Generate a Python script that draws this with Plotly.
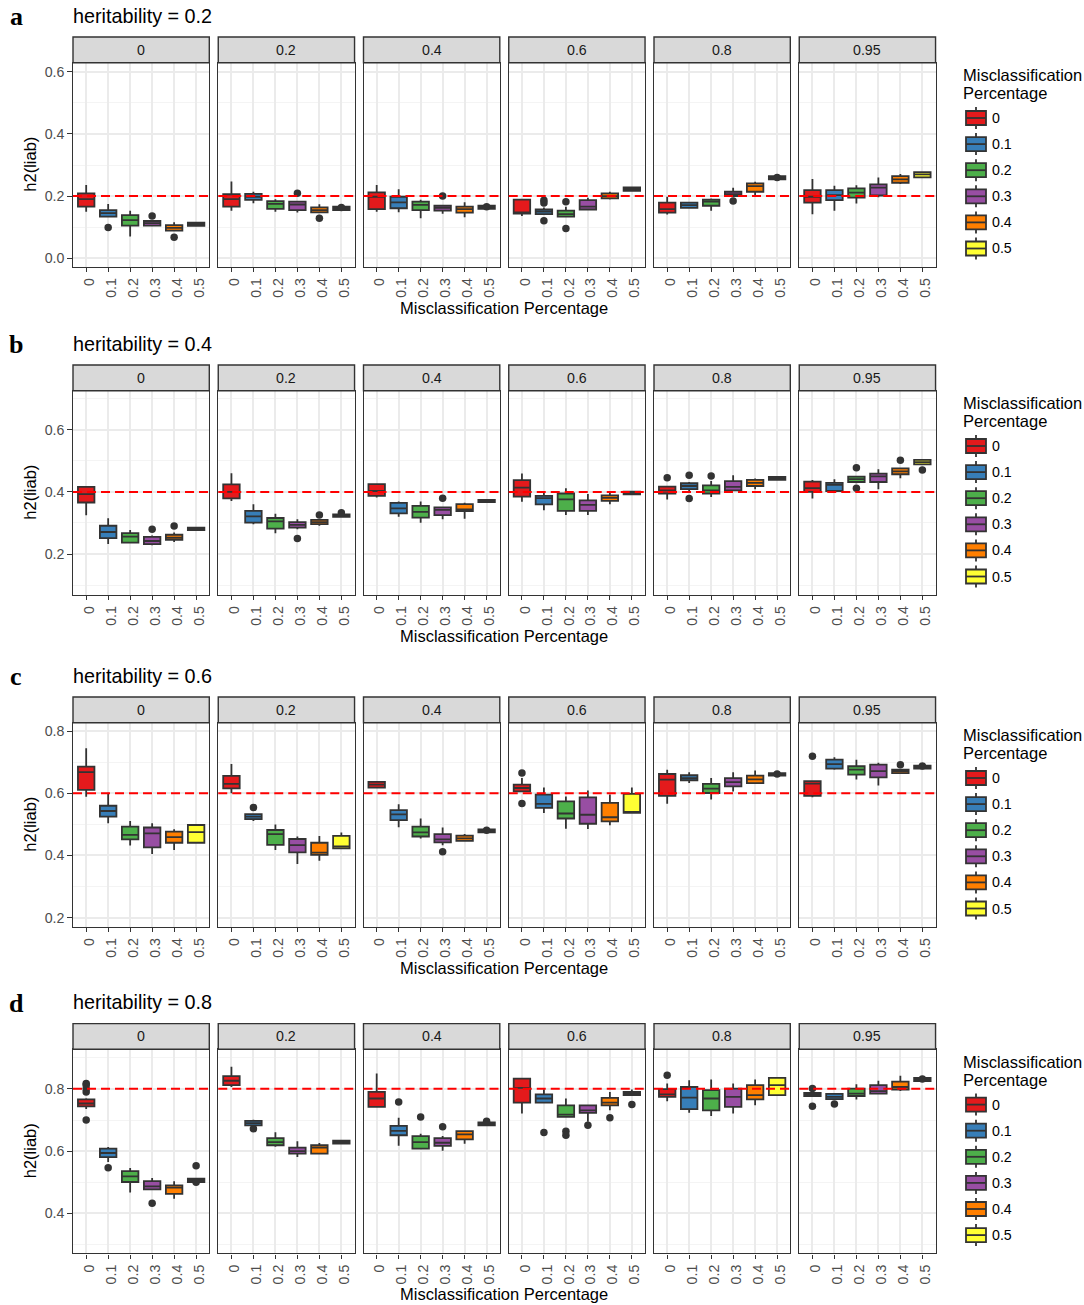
import plotly.graph_objects as go

# ---------------------------------------------------------------------------
# Data: estimated heritability on the liability scale, h2(liab).
# Rows = simulated heritability, facets = prevalence-like setting,
# six boxes per facet = misclassification percentage.
# Each inner list holds one facet, ordered by misclassification level.
# ---------------------------------------------------------------------------
HERITABILITY = [0.2, 0.4, 0.6, 0.8]
ROW_LETTERS = ["a", "b", "c", "d"]
FACETS = ["0", "0.2", "0.4", "0.6", "0.8", "0.95"]
MISCLASS = ["0", "0.1", "0.2", "0.3", "0.4", "0.5"]
COLORS = ["#E41A1C", "#377EB8", "#4DAF4A", "#984EA3", "#FF7F00", "#FFFF33"]

# heritability = 0.2
h02_lo = [[.150, .132, .070, .102, .086, .102], [.153, .177, .150, .147, .147, .153],
          [.150, .148, .129, .143, .132, .157], [.136, .142, .134, .155, .189, .215],
          [.141, .160, .153, .200, .198, .252], [.142, .153, .176, .196, .239, .258]]
h02_q1 = [[.166, .134, .105, .105, .089, .104], [.166, .188, .159, .155, .148, .155],
          [.158, .161, .155, .153, .147, .159], [.144, .142, .134, .157, .193, .217],
          [.147, .162, .169, .200, .214, .254], [.179, .187, .195, .202, .243, .260]]
h02_med = [[.190, .145, .123, .113, .098, .109], [.190, .198, .175, .173, .155, .161],
           [.198, .180, .172, .162, .158, .164], [.148, .150, .142, .166, .200, .222],
           [.158, .171, .182, .206, .232, .259], [.198, .203, .211, .227, .254, .270]]
h02_q3 = [[.209, .155, .139, .120, .107, .115], [.206, .207, .184, .182, .164, .166],
          [.212, .198, .182, .169, .166, .169], [.189, .157, .153, .187, .209, .228],
          [.179, .179, .189, .214, .241, .264], [.219, .219, .225, .238, .264, .277]]
h02_hi = [[.236, .175, .153, .120, .116, .117], [.247, .214, .190, .182, .174, .171],
          [.236, .222, .188, .169, .180, .171], [.191, .163, .166, .195, .214, .230],
          [.198, .181, .192, .227, .246, .266], [.255, .233, .235, .260, .271, .279]]
h02_out = [(0, "0.1", .099), (0, "0.3", .136), (0, "0.4", .068),
           (1, "0.3", .209), (1, "0.4", .129), (1, "0.5", .163),
           (2, "0.3", .200), (2, "0.5", .166),
           (3, "0.1", .187), (3, "0.1", .178), (3, "0.1", .121),
           (3, "0.2", .182), (3, "0.2", .096),
           (4, "0.3", .184), (4, "0.5", .260)]

# heritability = 0.4
h04_lo = [[.325, .232, .234, .228, .239, .275], [.371, .296, .267, .280, .291, .318],
          [.382, .320, .301, .312, .314, .365], [.368, .341, .326, .326, .360, .391],
          [.376, .403, .384, .405, .409, .438], [.379, .403, .428, .409, .444, .487]]
h04_q1 = [[.366, .251, .237, .232, .246, .277], [.379, .301, .282, .285, .296, .320],
          [.387, .331, .317, .325, .338, .367], [.385, .360, .339, .339, .371, .392],
          [.395, .409, .395, .405, .419, .439], [.400, .403, .432, .432, .457, .489]]
h04_med = [[.393, .271, .256, .242, .253, .281], [.400, .321, .305, .294, .303, .324],
           [.403, .347, .336, .342, .344, .371], [.414, .380, .376, .358, .381, .397],
           [.405, .419, .405, .416, .429, .444], [.412, .423, .441, .450, .466, .496]]
h04_q3 = [[.416, .291, .267, .255, .262, .285], [.424, .339, .316, .303, .310, .328],
          [.425, .365, .355, .350, .361, .374], [.438, .387, .395, .373, .389, .401],
          [.417, .428, .421, .435, .439, .448], [.433, .429, .449, .459, .476, .503]]
h04_hi = [[.418, .315, .277, .260, .269, .287], [.460, .360, .330, .312, .313, .331],
          [.427, .369, .369, .352, .365, .376], [.459, .398, .412, .393, .398, .402],
          [.419, .432, .435, .454, .443, .449], [.438, .441, .452, .473, .478, .505]]
h04_out = [(0, "0.3", .280), (0, "0.4", .290),
           (1, "0.3", .250), (1, "0.4", .326), (1, "0.5", .333),
           (2, "0.3", .380),
           (4, "0", .446), (4, "0.1", .454), (4, "0.1", .379), (4, "0.2", .451),
           (5, "0.2", .478), (5, "0.2", .412), (5, "0.4", .502), (5, "0.5", .471)]

# heritability = 0.6
h06_lo = [[.589, .504, .432, .405, .418, .440], [.600, .511, .418, .373, .383, .421],
          [.616, .491, .455, .433, .445, .472], [.606, .537, .486, .485, .497, .536],
          [.566, .633, .580, .606, .632, .655], [.587, .676, .644, .625, .664, .677]]
h06_q1 = [[.611, .525, .452, .426, .441, .441], [.616, .517, .434, .410, .402, .423],
          [.618, .514, .461, .442, .447, .474], [.606, .553, .519, .502, .510, .537],
          [.592, .642, .601, .622, .633, .657], [.592, .679, .660, .651, .665, .679]]
h06_med = [[.668, .543, .466, .471, .459, .475], [.630, .525, .469, .433, .409, .429],
           [.628, .532, .474, .452, .455, .479], [.617, .566, .535, .531, .523, .540],
           [.644, .649, .615, .636, .645, .661], [.631, .694, .676, .671, .671, .685]]
h06_q3 = [[.686, .560, .493, .490, .477, .498], [.656, .533, .482, .453, .441, .463],
          [.637, .546, .493, .469, .464, .484], [.628, .596, .574, .587, .569, .598],
          [.662, .658, .630, .649, .657, .665], [.639, .708, .687, .692, .676, .689]]
h06_hi = [[.745, .602, .511, .504, .484, .499], [.694, .535, .500, .461, .463, .474],
          [.639, .565, .519, .490, .469, .486], [.649, .619, .590, .609, .596, .619],
          [.676, .668, .649, .668, .673, .667], [.640, .716, .708, .698, .678, .692]]
h06_out = [(1, "0.1", .554),
           (2, "0.3", .412), (2, "0.5", .481),
           (3, "0", .665), (3, "0", .567),
           (4, "0.5", .662),
           (5, "0", .719), (5, "0.4", .692), (5, "0.5", .688)]

# heritability = 0.8
h08_lo = [[.735, .565, .467, .477, .447, .500], [.806, .683, .614, .581, .589, .623],
          [.739, .617, .606, .601, .624, .682], [.721, .756, .710, .694, .731, .779],
          [.760, .723, .713, .721, .747, .779], [.776, .766, .766, .783, .793, .823]]
h08_q1 = [[.744, .581, .501, .477, .463, .501], [.812, .683, .619, .592, .592, .624],
          [.742, .651, .608, .617, .638, .683], [.756, .756, .710, .723, .747, .780],
          [.774, .735, .731, .742, .766, .780], [.777, .767, .777, .785, .798, .825]]
h08_med = [[.753, .594, .519, .487, .483, .506], [.826, .690, .629, .600, .611, .629],
           [.769, .665, .629, .627, .654, .687], [.803, .769, .717, .731, .756, .785],
           [.782, .772, .769, .774, .780, .812], [.782, .774, .785, .793, .806, .830]]
h08_q3 = [[.766, .608, .536, .504, .490, .512], [.841, .697, .642, .611, .619, .634],
          [.790, .681, .648, .642, .664, .692], [.833, .782, .747, .747, .771, .790],
          [.799, .806, .796, .801, .812, .835], [.787, .784, .801, .812, .823, .835]]
h08_hi = [[.770, .613, .546, .514, .503, .513], [.871, .701, .661, .632, .626, .635],
          [.849, .707, .656, .649, .667, .697], [.835, .799, .769, .747, .790, .798],
          [.817, .828, .830, .817, .830, .836], [.792, .787, .815, .826, .842, .838]]
h08_out = [(0, "0", .817), (0, "0", .812), (0, "0", .800), (0, "0", .790), (0, "0", .700),
           (0, "0.1", .547), (0, "0.3", .433), (0, "0.5", .553), (0, "0.5", .500),
           (1, "0.1", .672),
           (2, "0.1", .758), (2, "0.2", .710), (2, "0.3", .678), (2, "0.5", .696),
           (3, "0.1", .660), (3, "0.2", .664), (3, "0.2", .651), (3, "0.3", .683),
           (3, "0.4", .707), (3, "0.5", .750),
           (4, "0", .844),
           (5, "0", .801), (5, "0", .744), (5, "0.1", .751), (5, "0.5", .832)]

ROWS = [
    (h02_lo, h02_q1, h02_med, h02_q3, h02_hi, h02_out),
    (h04_lo, h04_q1, h04_med, h04_q3, h04_hi, h04_out),
    (h06_lo, h06_q1, h06_med, h06_q3, h06_hi, h06_out),
    (h08_lo, h08_q1, h08_med, h08_q3, h08_hi, h08_out),
]

# ---------------------------------------------------------------------------
# Page geometry (pixels) and styling
# ---------------------------------------------------------------------------
W, H = 1084, 1305
PANEL_X0, PANEL_W, PANEL_STEP = 73.0, 136.3, 145.25
PANEL_TOPS = [62.7, 390.7, 722.7, 1049.3]
PANEL_H, STRIP_H = 204.0, 25.7
Y_RANGES = [(-0.027, 0.629), (0.069, 0.726), (0.171, 0.827), (0.272, 0.927)]

FONT = "Liberation Sans, Arial, Helvetica, sans-serif"
DARK = "#333333"
GRID = "#EBEBEB"
GRID_MINOR = "#F4F4F4"
TICK_TXT = "#4D4D4D"
SMALL = 14.2     # tick, strip and legend-key text
LARGE = 16.5     # axis and legend titles


def px(x):
    return x / W


def py(y):
    return 1 - y / H


fig = go.Figure()
layout = dict(
    width=W, height=H, margin=dict(l=0, r=0, t=0, b=0),
    paper_bgcolor="white", plot_bgcolor="white",
    boxmode="overlay", showlegend=False,
    font=dict(family=FONT, color="#000000"),
)
shapes, annotations = [], []

for r, (lo, q1, med, q3, hi, outs) in enumerate(ROWS):
    top = PANEL_TOPS[r]
    bottom = top + PANEL_H
    herit = HERITABILITY[r]
    for f, facet in enumerate(FACETS):
        k = r * len(FACETS) + f + 1
        xid = "x" if k == 1 else f"x{k}"
        yid = "y" if k == 1 else f"y{k}"
        xname = "xaxis" if k == 1 else f"xaxis{k}"
        yname = "yaxis" if k == 1 else f"yaxis{k}"
        x0 = PANEL_X0 + f * PANEL_STEP
        x1 = x0 + PANEL_W

        layout[xname] = dict(
            domain=[px(x0), px(x1)], anchor=yid, type="category",
            categoryorder="array", categoryarray=MISCLASS, range=[-0.6, 5.6],
            showgrid=True, gridcolor=GRID, gridwidth=1.8,
            ticks="outside", ticklen=4.5, tickwidth=1.3, tickcolor=DARK,
            tickangle=-90, ticklabelshift=3,
            tickfont=dict(family=FONT, size=SMALL, color=TICK_TXT),
            showline=True, mirror=True, linecolor=DARK, linewidth=1.4,
            zeroline=False, fixedrange=True,
        )
        layout[yname] = dict(
            domain=[py(bottom), py(top)], anchor=xid, range=list(Y_RANGES[r]),
            tick0=0, dtick=0.2, tickformat=".1f",
            showgrid=True, gridcolor=GRID, gridwidth=1.8,
            minor=dict(tick0=0.1, dtick=0.2, showgrid=True, gridcolor=GRID_MINOR,
                       gridwidth=1, ticks=""),
            showticklabels=(f == 0), ticks="outside" if f == 0 else "",
            ticklen=4.5, tickwidth=1.3, tickcolor=DARK,
            tickfont=dict(family=FONT, size=SMALL, color=TICK_TXT),
            showline=True, mirror=True, linecolor=DARK, linewidth=1.4,
            zeroline=False, fixedrange=True,
        )

        # one box per misclassification level
        for c, cat in enumerate(MISCLASS):
            fig.add_trace(go.Box(
                x=[cat], q1=[q1[f][c]], median=[med[f][c]], q3=[q3[f][c]],
                lowerfence=[lo[f][c]], upperfence=[hi[f][c]],
                fillcolor=COLORS[c], line=dict(color=DARK, width=1.8),
                whiskerwidth=0, width=0.75, boxpoints=False,
                xaxis=xid, yaxis=yid, name=cat, showlegend=False,
            ))

        pts = [(cat, v) for (fi, cat, v) in outs if fi == f]
        if pts:
            fig.add_trace(go.Scatter(
                x=[p[0] for p in pts], y=[p[1] for p in pts], mode="markers",
                marker=dict(color=DARK, size=7.5), xaxis=xid, yaxis=yid,
                showlegend=False, hoverinfo="y",
            ))

        # reference line at the simulated heritability
        shapes.append(dict(
            type="line", xref=f"{xid} domain", x0=0, x1=1, yref=yid, y0=herit, y1=herit,
            line=dict(color="#FF0000", width=2, dash="9px,5px"), layer="above",
        ))

        # facet strip
        shapes.append(dict(
            type="rect", xref="paper", yref="paper",
            x0=px(x0), x1=px(x1), y0=py(top), y1=py(top - STRIP_H),
            fillcolor="#D9D9D9", line=dict(color=DARK, width=1.4), layer="above",
        ))
        annotations.append(dict(
            x=px((x0 + x1) / 2), y=py(top - STRIP_H / 2), xref="paper", yref="paper",
            text=facet, showarrow=False, xanchor="center", yanchor="middle",
            font=dict(family=FONT, size=SMALL, color="#1A1A1A"),
        ))

    # row titles and axis titles
    title_y = top - STRIP_H - 21.3
    annotations.append(dict(
        x=px(PANEL_X0 - 2), y=py(title_y), xref="paper", yref="paper",
        text=f"heritability = {herit}", showarrow=False, xanchor="left", yanchor="middle",
        font=dict(family=FONT, size=19.8, color="#000000"),
    ))
    annotations.append(dict(
        x=px(16), y=py(title_y + 1), xref="paper", yref="paper",
        text=f"<b>{ROW_LETTERS[r]}</b>", showarrow=False, xanchor="center", yanchor="middle",
        font=dict(family="Liberation Serif, Times New Roman, serif", size=26, color="#000000"),
    ))
    annotations.append(dict(
        x=px(PANEL_X0 + (5 * PANEL_STEP + PANEL_W) / 2), y=py(bottom + 41),
        xref="paper", yref="paper", text="Misclassification Percentage",
        showarrow=False, xanchor="center", yanchor="middle",
        font=dict(family=FONT, size=LARGE, color="#000000"),
    ))
    annotations.append(dict(
        x=px(30), y=py(top + PANEL_H / 2), xref="paper", yref="paper",
        text="h2(liab)", textangle=-90, showarrow=False,
        xanchor="center", yanchor="middle",
        font=dict(family=FONT, size=LARGE, color="#000000"),
    ))

    # legend: title plus one boxplot key per misclassification level
    for line_i, txt in enumerate(["Misclassification", "Percentage"]):
        annotations.append(dict(
            x=px(961), y=py(top + 12.3 + 18 * line_i), xref="paper", yref="paper",
            text=txt, showarrow=False, xanchor="left", yanchor="middle",
            font=dict(family=FONT, size=LARGE, color="#000000"),
        ))
    for c, cat in enumerate(MISCLASS):
        ky = top + 55.3 + 26.1 * c
        kx0, kx1 = 966.0, 986.0
        kxm = (kx0 + kx1) / 2
        shapes.append(dict(
            type="line", xref="paper", yref="paper", x0=px(kxm), x1=px(kxm),
            y0=py(ky - 11), y1=py(ky + 11), line=dict(color=DARK, width=1.8),
        ))
        shapes.append(dict(
            type="rect", xref="paper", yref="paper", x0=px(kx0), x1=px(kx1),
            y0=py(ky + 7), y1=py(ky - 7), fillcolor=COLORS[c],
            line=dict(color=DARK, width=1.8),
        ))
        shapes.append(dict(
            type="line", xref="paper", yref="paper", x0=px(kx0), x1=px(kx1),
            y0=py(ky), y1=py(ky), line=dict(color=DARK, width=1.8),
        ))
        annotations.append(dict(
            x=px(990), y=py(ky), xref="paper", yref="paper", text=cat,
            showarrow=False, xanchor="left", yanchor="middle",
            font=dict(family=FONT, size=SMALL, color="#000000"),
        ))

layout["shapes"] = shapes
layout["annotations"] = annotations
fig.update_layout(**layout)
fig.write_html("out.html")
